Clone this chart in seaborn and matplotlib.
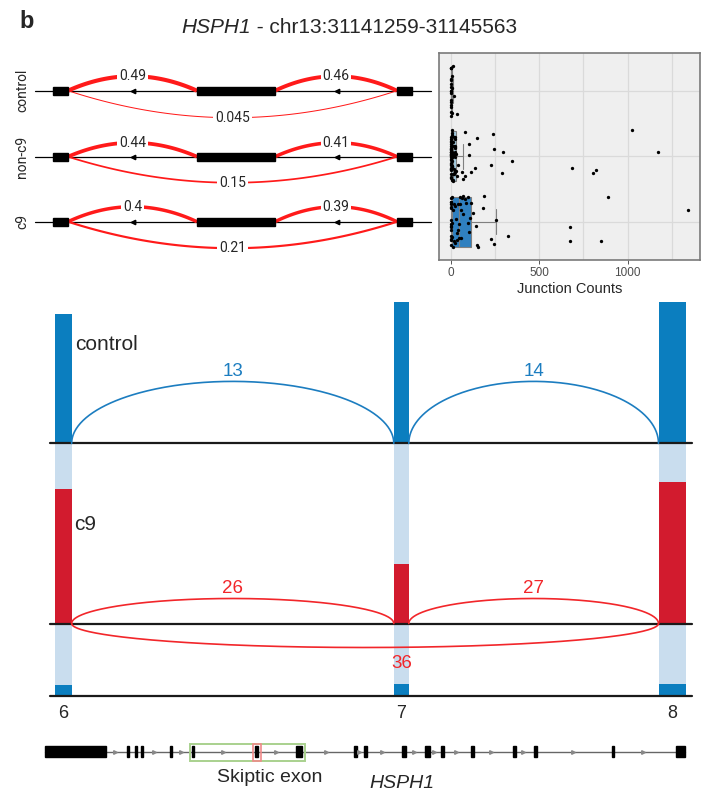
import numpy as np
import pandas as pd
import matplotlib
matplotlib.use("Agg")
import matplotlib.pyplot as plt
import seaborn as sns
from matplotlib.patches import Rectangle

sns.set_theme(style="white")
plt.rcParams['font.family'] = ['Liberation Sans', 'DejaVu Sans']

# ---------------- data ----------------
title_gene = "HSPH1"
title_region = " - chr13:31141259-31145563"
groups = ["control", "non-c9", "c9"]
psi_upstream = [0.49, 0.44, 0.4]
psi_downstream = [0.46, 0.41, 0.39]
psi_skip = [0.045, 0.15, 0.21]

control_counts = [0, 0, 0, 0, 0, 0, 1, 1, 1, 1, 2, 2, 2, 3, 3, 4, 5, 6, 8, 11, 19, 34]
nonc9_counts = [0, 0, 0, 0, 0, 0, 0, 0, 0, 0, 0, 0, 1, 1, 1, 1, 1, 1, 1, 2, 2, 2, 2, 2,
                3, 3, 3, 3, 4, 4, 4, 5, 5, 5, 6, 6, 7, 7, 8, 8, 9, 10, 10, 11, 12, 13,
                14, 15, 16, 17, 18, 19, 20, 21, 22, 22, 23, 24, 25, 25, 26, 26, 27, 27,
                28, 28, 36, 41, 66, 71, 81, 81, 105, 105, 113, 137, 147, 226, 237, 246,
                291, 297, 348, 683, 802, 819, 1022, 1173]
c9_counts = [0, 0, 0, 0, 0, 0, 1, 1, 1, 2, 2, 2, 3, 3, 4,
             6, 8, 10, 12, 15, 18, 20, 24, 27, 30, 34, 38, 40, 43, 46, 48, 50, 53, 56,
             60, 64, 68, 72, 80, 88, 95, 99, 105, 110, 112,
             124, 141, 147, 156, 184, 188, 228, 246, 254, 325, 676, 676, 849, 890, 1339]
count_ticks = [0, 500, 1000]

exon_labels = ["6", "7", "8"]
control_cov = [129, 141, 141]
c9_cov = [135, 60, 142]
third_cov = [11, 12, 12]
control_junc = [13, 14]
c9_junc = [26, 27]
c9_skip_junc = 36

# ---------------- layout (pixel units) ----------------
W, H = 707, 801
fig = plt.figure(figsize=(W / 100, H / 100), dpi=100)
ov = fig.add_axes([0, 0, 1, 1])
ov.set_xlim(0, W)
ov.set_ylim(H, 0)
ov.axis('off')

ov.text(19, 28, "b", fontsize=17, fontweight='bold', ha='left', va='baseline')
ov.text(251, 33, title_gene, fontsize=15, style='italic', ha='right', va='baseline')
ov.text(251, 33, title_region, fontsize=15, ha='left', va='baseline')

# ---- top-left mini sashimi ----
row_y = [90.7, 156.7, 221.7]
mini_exons = [(53, 68), (197, 275), (397, 412)]
mini_arrows = [133, 337]
up_h = [14.5, 14, 15]
down_h = [27, 26, 26.5]


def bez(ax, x1, x2, y0, h, lw, color, z=2):
    t = np.linspace(0, 1, 120)
    xm = (x1 + x2) / 2
    x = (1 - t) ** 2 * x1 + 2 * (1 - t) * t * xm + t ** 2 * x2
    y = (1 - t) ** 2 * y0 + 2 * (1 - t) * t * (y0 - 2 * h) + t ** 2 * y0
    ax.plot(x, y, color=color, lw=lw, solid_capstyle='butt', zorder=z)
    return xm, y0 - h


def fmt(v):
    return f"{v:g}"


red = "#FF1A1A"
for i, g in enumerate(groups):
    y0 = row_y[i]
    ov.plot([35, 431], [y0, y0], color='black', lw=0.9, zorder=1)
    for (a, b) in mini_exons:
        ov.add_patch(Rectangle((a, y0 - 4), b - a, 8, color='black', zorder=3))
    ov.plot(mini_arrows, [y0] * len(mini_arrows), linestyle='none', marker='<',
            ms=3.2, color='black', zorder=3)
    for x1, x2, v in [(68, 197, psi_upstream[i]), (275, 397, psi_downstream[i])]:
        xm, ym = bez(ov, x1, x2, y0, up_h[i], 0.5 + 5 * v, red)
        ov.text(xm, ym, fmt(v), ha='center', va='center', fontsize=10,
                family=['Roboto', 'DejaVu Sans'], zorder=5,
                bbox=dict(fc='white', ec='none', pad=1.2))
    xm, ym = bez(ov, 68, 397, y0, -down_h[i], 0.5 + 5 * psi_skip[i], red)
    ov.text(xm, ym, fmt(psi_skip[i]), ha='center', va='center', fontsize=10,
            family=['Roboto', 'DejaVu Sans'], zorder=5,
            bbox=dict(fc='white', ec='none', pad=1.2))
    ov.text(22, y0, g, rotation=90, ha='center', va='center', fontsize=10,
            family=['Roboto', 'DejaVu Sans'])

# ---- top-right strip/box plot ----
ax2 = fig.add_axes([439 / W, 1 - 260 / H, (700 - 439) / W, (260 - 53.3) / H])
df = pd.DataFrame({
    "group": ["control"] * len(control_counts) + ["non-c9"] * len(nonc9_counts) + ["c9"] * len(c9_counts),
    "count": control_counts + nonc9_counts + c9_counts,
})
box_colors = {"control": "#DEEBF7", "non-c9": "#A6CEE3", "c9": "#2F80C0"}
sns.boxplot(data=df, x="count", y="group", order=groups, hue="group", hue_order=groups,
            palette=box_colors, legend=False, width=0.76, showfliers=False,
            linecolor="#808080", linewidth=0.8, saturation=1, ax=ax2)
np.random.seed(7)
sns.stripplot(data=df, x="count", y="group", order=groups, color="black", size=2.4,
              jitter=0.4, ax=ax2, zorder=4)
ax2.set_xlim(-66, 1408)
ax2.set_ylim(2.585, -0.571)
ax2.set_facecolor("#EFEFEF")
ax2.set_xticks(count_ticks)
ax2.set_xticks([250, 750, 1250], minor=True)
ax2.set_xticklabels([str(t) for t in count_ticks], fontsize=8.5, color="#4D4D4D")
ax2.set_yticks([0, 1, 2])
ax2.set_yticklabels([])
ax2.set_ylabel("")
ax2.set_xlabel("Junction Counts", fontsize=10.5, labelpad=2)
ax2.set_axisbelow(True)
ax2.grid(True, which='major', color="#DADADA", lw=0.9)
ax2.grid(True, which='minor', axis='x', color="#DADADA", lw=0.9)
ax2.tick_params(axis='x', which='major', bottom=True, length=3, width=0.7, color="#555555", pad=2)
ax2.tick_params(axis='x', which='minor', bottom=False)
ax2.tick_params(axis='y', left=False)
for s in ax2.spines.values():
    s.set_color("#7A7A7A")
    s.set_linewidth(1.2)

# ---- bottom sashimi ----
exon_x = [63.4, 401.3, 672]
exon_w = [16.5, 15, 27]
base_ctrl, base_c9, base_third = 443.4, 623.5, 696
blue = "#0B7EBF"
blue_arc = "#1C7DC0"
red_bar = "#D21B2E"
red_arc = "#F2262A"
light = "#C9DDEE"
line_x = [49.5, 691.5]

ov.bar(exon_x, [base_third - base_ctrl] * 3, bottom=base_ctrl, width=exon_w,
       color=light, zorder=1, linewidth=0)
ov.bar(exon_x, [-h for h in control_cov], bottom=base_ctrl, width=exon_w,
       color=blue, zorder=2, linewidth=0)
ov.bar(exon_x, [-h for h in c9_cov], bottom=base_c9, width=exon_w,
       color=red_bar, zorder=2, linewidth=0)
ov.bar(exon_x, [-h for h in third_cov], bottom=base_third, width=exon_w,
       color=blue, zorder=2, linewidth=0)
for b in [base_ctrl, base_c9, base_third]:
    ov.plot(line_x, [b, b], color="#1A1A1A", lw=1.6, zorder=3)


def ell(ax, x1, x2, y0, h, color, lw=1.2):
    t = np.linspace(0, np.pi, 200)
    x = (x1 + x2) / 2 - (x2 - x1) / 2 * np.cos(t)
    y = y0 - h * np.sin(t)
    ax.plot(x, y, color=color, lw=lw, zorder=4)


edges_r = [x + w / 2 for x, w in zip(exon_x, exon_w)]
edges_l = [x - w / 2 for x, w in zip(exon_x, exon_w)]
ctrl_h = 62
c9_h = 25
for j, v in enumerate(control_junc):
    x1, x2 = edges_r[j], edges_l[j + 1]
    ell(ov, x1, x2, base_ctrl, ctrl_h, blue_arc)
    ov.text((x1 + x2) / 2, base_ctrl - ctrl_h - 10, str(v), color=blue_arc,
            fontsize=13.5, ha='center', va='center')
for j, v in enumerate(c9_junc):
    x1, x2 = edges_r[j], edges_l[j + 1]
    ell(ov, x1, x2, base_c9, c9_h, red_arc)
    ov.text((x1 + x2) / 2, base_c9 - c9_h - 10, str(v), color=red_arc,
            fontsize=13.5, ha='center', va='center')
ell(ov, edges_r[0], edges_l[2], base_c9, -24, red_arc)
ov.text(exon_x[1], base_c9 + 40, str(c9_skip_junc), color=red_arc, fontsize=13.5,
        ha='center', va='center', zorder=5)

ov.text(75, 345, "control", fontsize=15, ha='left', va='center')
ov.text(74, 525, "c9", fontsize=15, ha='left', va='center')
for x, lab in zip(exon_x, exon_labels):
    ov.text(x, 714, lab, fontsize=13, ha='center', va='center')

# ---- gene model ----
gene_y = 751.5
gene_exon_start = [45, 126.5, 134.5, 140.5, 169.5, 191.5, 255, 296, 353.5, 364,
                   401.5, 425, 440.5, 470.5, 512.5, 533.5, 611.5, 676]
gene_exon_end = [106, 129, 137, 143, 172, 194, 258, 302, 357, 366.5,
                 406, 430, 443.5, 473.5, 515.5, 536.5, 613.5, 685]
gene_arrows = [115, 154, 181, 223, 276, 326, 359, 382, 414, 434, 456, 491, 523, 573, 643]
ov.plot([45, 685], [gene_y, gene_y], color="#666666", lw=1, zorder=1)
for a, b in zip(gene_exon_start, gene_exon_end):
    ov.add_patch(Rectangle((a, gene_y - 5.5), b - a, 11, color='black', zorder=2))
ov.plot(gene_arrows, [gene_y] * len(gene_arrows), linestyle='none', marker='>',
        ms=2.6, color="#888888", zorder=2)
ov.add_patch(Rectangle((190, 744), 115, 16.5, fill=False, ec="#A9D18E", lw=1.4, zorder=3))
ov.add_patch(Rectangle((253, 744), 8, 16.5, fill=False, ec="#F08A8A", lw=1.2, zorder=3))
ov.text(270, 778, "Skiptic exon", fontsize=14, ha='center', va='center')
ov.text(402, 783, "HSPH1", fontsize=14, style='italic', ha='center', va='center')

fig.savefig("out.png", dpi=100)
